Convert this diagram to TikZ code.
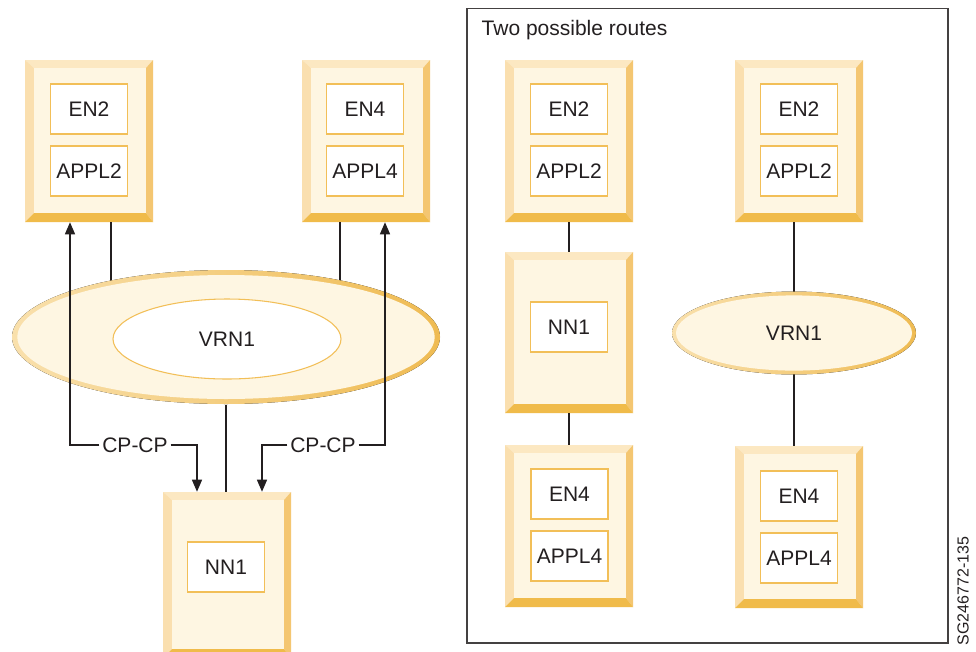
\documentclass[tikz,border=0pt]{standalone}
\usepackage{fontspec}
\setmainfont{Liberation Sans}
\usetikzlibrary{arrows.meta,fit,shapes.geometric}
\definecolor{cream}{HTML}{FEF6E2}
\definecolor{bvtop}{HTML}{FCE8C2}
\definecolor{bvleft}{HTML}{FADFAF}
\definecolor{bvright}{HTML}{F4C671}
\definecolor{bvbot}{HTML}{F0BB4A}
\definecolor{innerc}{HTML}{F2BF58}
\definecolor{ellL}{HTML}{F9E0AC}
\definecolor{ellR}{HTML}{EFBB52}
\definecolor{txt}{HTML}{231F20}
\newcommand\bevbox[5]{%
 \fill[bvtop] (#2,#3) -- (#4,#3) -- (#4-7,#3+8) -- (#2+9,#3+8) -- cycle;
 \fill[bvleft] (#2,#3) -- (#2+9,#3+8) -- (#2+9,#5-9) -- (#2,#5) -- cycle;
 \fill[bvright] (#4,#3) -- (#4,#5) -- (#4-7,#5-9) -- (#4-7,#3+8) -- cycle;
 \fill[bvbot] (#2,#5) -- (#4,#5) -- (#4-7,#5-9) -- (#2+9,#5-9) -- cycle;
 \fill[cream] (#2+9,#3+8) rectangle (#4-7,#5-9);
 \path (#2,#3) coordinate (#1-nw) (#4,#5) coordinate (#1-se);
 \node[fit=(#1-nw)(#1-se), inner sep=0pt] (#1) {};
}
\tikzset{
 lbl/.style={font=\fontsize{15.75}{18}\selectfont, text=txt},
 inbox/.style={lbl, draw=innerc, line width=0.8pt, fill=white, minimum width=57.75pt, minimum height=37.5pt, inner sep=0pt},
 conn/.style={draw=txt, line width=1pt},
 arr/.style={conn, -{Triangle[width=7.5pt,length=9pt]}},
 cplbl/.style={lbl, fill=white, inner xsep=2pt, inner ysep=1pt},
}
\begin{document}
\begin{tikzpicture}[x=0.75pt,y=-0.75pt]
\useasboundingbox (0,0) rectangle (976,651);
\fill[white] (0,0) rectangle (976,651);

% ---------- left part ----------
\bevbox{b1}{25}{60}{153}{222}
\node[inbox] (en2a) at (89,109) {EN2};
\node[inbox] (appl2a) at (89,171) {APPL2};
\bevbox{b2}{302}{60}{430}{222}
\node[inbox] (en4a) at (365,109) {EN4};
\node[inbox] (appl4a) at (365,171) {APPL4};

\bevbox{nn}{163}{492}{291}{658}
\node[inbox] (nn1a) at (226,567) {NN1};

\node[ellipse, minimum width=321pt, minimum height=101.25pt, inner sep=0pt] (vrnL) at (226,337) {};
% lines from boxes into ellipse (drawn beneath ellipse)
\draw[conn] ([xshift=16.5pt]b1.south) -- ([xshift=16.5pt]b1.south |- vrnL.center);
\draw[conn] ([xshift=-19.5pt]b2.south) -- ([xshift=-19.5pt]b2.south |- vrnL.center);
\fill[left color=ellL, right color=ellR] (vrnL.center) ellipse [x radius=160.5pt, y radius=50.25pt];
\fill[cream] (vrnL.center) ellipse [x radius=156.5pt, y radius=46.5pt];
\node[ellipse, draw=innerc, line width=0.8pt, fill=white, minimum width=171pt, minimum height=60pt, inner sep=0pt, lbl] (vrnin) at (227,339) {VRN1};

\draw[conn] (vrnL.south) -- (nn.north -| vrnL.south);

\node[cplbl] (cp1) at (135,445) {CP-CP};
\node[cplbl] (cp2) at (323,445) {CP-CP};
\draw[arr] (cp1) -| ([xshift=-22.5pt]nn.north);
\draw[arr] (cp1.west) -| ([xshift=-14.25pt]b1.south);
\draw[arr] (cp2) -| ([xshift=26.25pt]nn.north);
\draw[arr] (cp2.east) -| ([xshift=14.25pt]b2.south);

% ---------- right panel ----------
\draw[draw=txt!85, line width=0.8pt] (467,8.5) rectangle (948,643);
\node[lbl, anchor=west] (title) at (477,30) {Two possible routes};

\bevbox{r1a}{505}{60}{633}{222}
\node[inbox] (en2b) at (569,109) {EN2};
\node[inbox] (appl2b) at (569,171) {APPL2};
\bevbox{r1n}{505}{252}{633}{413}
\node[inbox] (nn1b) at (569,327) {NN1};
\bevbox{r1b}{505}{445}{633}{607}
\node[inbox] (en4b) at (569.5,494) {EN4};
\node[inbox] (appl4b) at (569.5,556) {APPL4};
\draw[conn] (r1a.south) -- (r1n.north);
\draw[conn] (r1n.south) -- (r1b.north);

\bevbox{r2a}{735}{60}{863}{222}
\node[inbox] (en2c) at (799,109) {EN2};
\node[inbox] (appl2c) at (799,171) {APPL2};
\node[ellipse, minimum width=183pt, minimum height=62.25pt, inner sep=0pt] (vrnR) at (794,333) {};
\bevbox{r2b}{735}{446}{863}{608}
\node[inbox] (en4c) at (799,496) {EN4};
\node[inbox] (appl4c) at (799,558) {APPL4};
\draw[conn] (r2a.south -| vrnR.center) -- (vrnR.center);
\draw[conn] (vrnR.center) -- (r2b.north -| vrnR.center);
\fill[left color=ellL, right color=ellR] (vrnR.center) ellipse [x radius=91.5pt, y radius=31.1pt];
\fill[cream] (vrnR.center) ellipse [x radius=88.5pt, y radius=28.2pt];
\node[lbl] (vrnRt) at (vrnR.center) {VRN1};

\node[lbl, font=\fontsize{12}{14}\selectfont, rotate=90] (sg) at (963,591) {SG246772-135};
\end{tikzpicture}
\end{document}
